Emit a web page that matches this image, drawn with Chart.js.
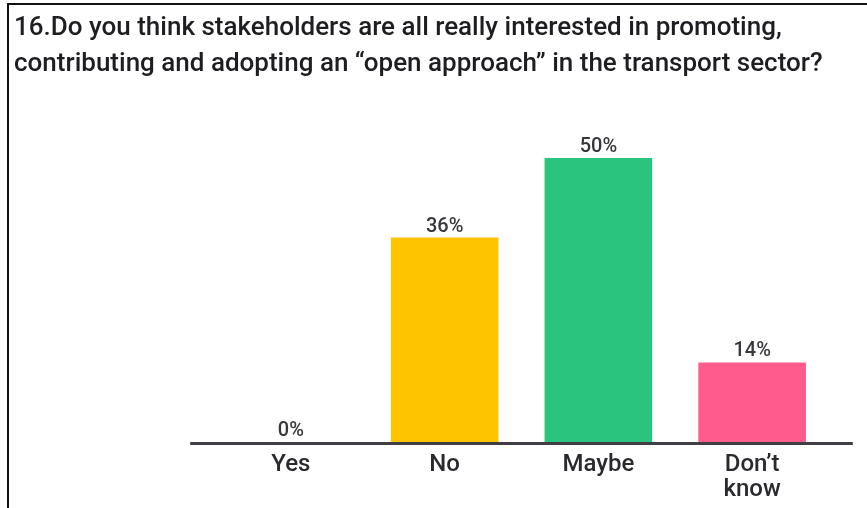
<!DOCTYPE html>
<html>
<head>
<meta charset="utf-8">
<script src="https://cdn.jsdelivr.net/npm/chart.js@4/dist/chart.umd.min.js"></script>
<style>
  html, body { margin: 0; padding: 0; background: #fff; width: 867px; height: 508px; overflow: hidden; }
  #frame { position: absolute; left: 7px; top: 3px; width: 1000px; height: 1000px; border: 2px solid #111; box-sizing: border-box; }
  #wrap { position: absolute; left: 0; top: 0; width: 867px; height: 508px; }
</style>
</head>
<body>
<div id="frame"></div>
<div id="wrap"><canvas id="chart" width="867" height="508"></canvas></div>
<script>
// Survey question and answers
const titleLines = [
  '16.Do you think stakeholders are all really interested in promoting,',
  'contributing and adopting an \u201Copen approach\u201D in the transport sector?'
];
const categories = ['Yes', 'No', 'Maybe', ['Don\u2019t', 'know']];
const percentages = [0, 36, 50, 14];
const barColors = ['#5769E7', '#FFC400', '#2BC47E', '#FF5B8D'];

const FONT = 'Roboto, "Noto Sans", sans-serif';

// Baseline, value labels and the question text
const decorations = {
  id: 'decorations',
  afterDatasetsDraw(chart) {
    const { ctx, chartArea: a } = chart;
    const meta = chart.getDatasetMeta(0);
    const gap = meta.data.length > 1 ? (meta.data[1].x - meta.data[0].x) : 0;
    const ext = gap * 0.155;
    ctx.save();
    ctx.strokeStyle = '#3f3f43';
    ctx.lineWidth = 3;
    ctx.beginPath();
    ctx.moveTo(a.left - ext, a.bottom + 1.5);
    ctx.lineTo(a.right + ext, a.bottom + 1.5);
    ctx.stroke();

    ctx.font = '500 20px ' + FONT;
    ctx.fillStyle = '#38383c';
    ctx.textAlign = 'center';
    ctx.textBaseline = 'alphabetic';
    meta.data.forEach((bar, i) => {
      ctx.fillText(percentages[i] + '%', bar.x, bar.y - 6);
    });

    ctx.font = '500 26px ' + FONT;
    ctx.fillStyle = '#1e1e22';
    ctx.textAlign = 'left';
    titleLines.forEach((line, i) => {
      ctx.fillText(line, 14, 35 + i * 36);
    });
    ctx.restore();
  }
};

new Chart(document.getElementById('chart'), {
  type: 'bar',
  data: {
    labels: categories,
    datasets: [{
      data: percentages,
      backgroundColor: barColors,
      borderWidth: 0,
      barPercentage: 0.7,
      categoryPercentage: 1.0
    }]
  },
  options: {
    responsive: false,
    animation: false,
    layout: { padding: { left: 214, right: 38, top: 158, bottom: 6 } },
    plugins: {
      legend: { display: false },
      title: { display: false },
      tooltip: { enabled: false }
    },
    scales: {
      x: {
        grid: { display: false },
        border: { display: false },
        ticks: {
          color: '#2a2a2e',
          font: { family: FONT, size: 24, weight: '500', lineHeight: 1.05 },
          padding: 2,
          maxRotation: 0,
          autoSkip: false
        },
        afterFit(scale) { scale.height = 60; }
      },
      y: {
        display: false,
        min: 0,
        max: 50
      }
    }
  },
  plugins: [decorations]
});
</script>
</body>
</html>
